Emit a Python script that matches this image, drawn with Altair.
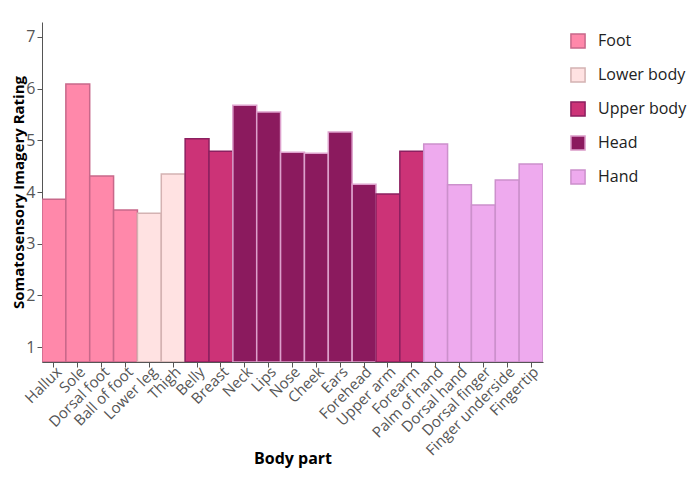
import altair as alt
import pandas as pd

parts = ["Hallux", "Sole", "Dorsal foot", "Ball of foot", "Lower leg", "Thigh",
         "Belly", "Breast", "Neck", "Lips", "Nose", "Cheek", "Ears", "Forehead",
         "Upper arm", "Forearm", "Palm of hand", "Dorsal hand", "Dorsal finger",
         "Finger underside", "Fingertip"]
groups = ["Foot", "Foot", "Foot", "Foot", "Lower body", "Lower body",
          "Upper body", "Upper body", "Head", "Head", "Head", "Head", "Head", "Head",
          "Upper body", "Upper body", "Hand", "Hand", "Hand", "Hand", "Hand"]
ratings = [3.86, 6.09, 4.31, 3.65, 3.59, 4.35,
           5.03, 4.79, 5.68, 5.55, 4.77, 4.75, 5.16, 4.15,
           3.96, 4.79, 4.93, 4.14, 3.75, 4.23, 4.54]

group_order = ["Foot", "Lower body", "Upper body", "Head", "Hand"]
fills = ["#FF88AA", "#FFE2E2", "#CC3377", "#8B1A5E", "#EEAAEE"]
strokes = ["#C8688A", "#D4B2B2", "#8C2060", "#DDA0CC", "#CC90CC"]

df = pd.DataFrame({"part": parts, "group": groups, "rating": ratings})

FONT = "Open Sans"

chart = alt.Chart(df).mark_bar(strokeWidth=1.5, clip=True).encode(
    x=alt.X("part:N", sort=parts, title="Body part",
            scale=alt.Scale(paddingInner=0, paddingOuter=0),
            axis=alt.Axis(labelAngle=-45, labelAlign="right", labelBaseline="middle",
                          labelFontSize=15, labelColor="#555", labelFont=FONT,
                          labelPadding=2, labelOffset=5, tickColor="#555", tickSize=5,
                          domainColor="#555", titleFont=FONT, titleFontSize=16,
                          titleFontWeight="bold", titleColor="black",
                          titleY=96, titleBaseline="middle")),
    y=alt.Y("rating:Q", title="Somatosensory Imagery Rating",
            scale=alt.Scale(domain=[0.71, 7.29], nice=False, zero=False),
            axis=alt.Axis(values=[1, 2, 3, 4, 5, 6, 7], grid=False,
                          labelFontSize=16, labelColor="#555", labelFont=FONT,
                          tickColor="#555", tickSize=5, domainColor="#555",
                          titleFont=FONT, titleFontSize=15, titleFontWeight="bold",
                          titleColor="black", titleX=-24, titleBaseline="middle")),
    y2=alt.datum(0.71),
    fill=alt.Fill("group:N", sort=group_order, title=None,
                  scale=alt.Scale(domain=group_order, range=fills),
                  legend=alt.Legend(orient="none", legendX=528, legendY=11)),
    stroke=alt.Stroke("group:N", sort=group_order, title=None,
                      scale=alt.Scale(domain=group_order, range=strokes),
                      legend=alt.Legend(orient="none", legendX=528, legendY=11)),
).properties(
    width=501, height=340,
    autosize=alt.AutoSizeParams(type="none"),
    padding={"left": 34, "top": 14, "right": 149, "bottom": 125},
).configure_view(stroke=None).configure_legend(
    labelFont=FONT, labelFontSize=16, labelColor="#222", symbolType="square",
    symbolSize=200, symbolStrokeWidth=1.5, rowPadding=12,
    labelOffset=12, padding=0
)

chart.save("out.html", embed_options={"renderer": "svg", "actions": False})
